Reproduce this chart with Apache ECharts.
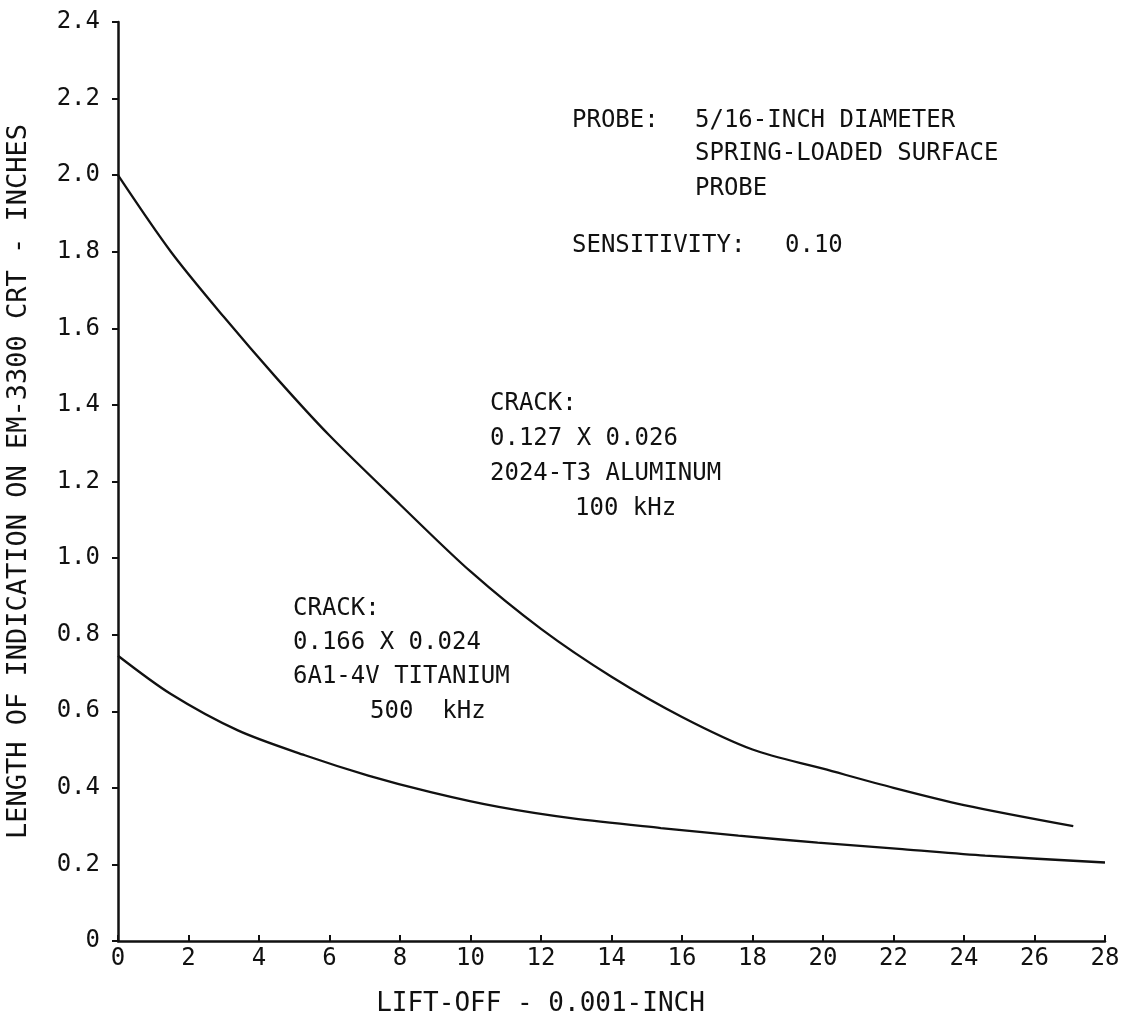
<!DOCTYPE html>
<html>
<head>
<meta charset="utf-8">
<script src="https://cdn.jsdelivr.net/npm/echarts@6/dist/echarts.min.js"></script>
<style>
html,body{margin:0;padding:0;background:#fff;}
#chart{width:1130px;height:1021px;}
</style>
</head>
<body>
<div id="chart"></div>
<script>
// Lift-off (0.001 inch) and indication length (inches)
var aluminumX = [0, 1.5, 3, 4.5, 6, 8, 10, 12, 14, 16, 18, 20, 22, 24, 27.1];
var aluminumY = [2.0, 1.80, 1.63, 1.47, 1.32, 1.14, 0.965, 0.815, 0.69, 0.585, 0.50, 0.45, 0.40, 0.355, 0.30];
var titaniumX = [0, 1.5, 3.4, 5.3, 7.1, 8.9, 10.8, 12.9, 15.4, 17.6, 19.85, 22.25, 24.6, 28];
var titaniumY = [0.745, 0.645, 0.55, 0.485, 0.432, 0.388, 0.35, 0.32, 0.295, 0.275, 0.257, 0.24, 0.223, 0.205];
var xTicks = [0, 2, 4, 6, 8, 10, 12, 14, 16, 18, 20, 22, 24, 26, 28];
var yTicks = [0, 0.2, 0.4, 0.6, 0.8, 1.0, 1.2, 1.4, 1.6, 1.8, 2.0, 2.2, 2.4];

function pairs(xs, ys) { return xs.map(function (x, i) { return [x, ys[i]]; }); }

var FONT = "'DejaVu Sans Mono', 'Liberation Mono', monospace";
var INK = '#111';

function txt(s, x, y) {
  return { type: 'text', style: { text: s, x: x, y: y, fill: INK, font: '24px ' + FONT, textVerticalAlign: 'middle', textAlign: 'left' } };
}

var chart = echarts.init(document.getElementById('chart'), null, { renderer: 'canvas' });
chart.setOption({
  backgroundColor: '#fff',
  animation: false,
  grid: { left: 118, right: 25, top: 22, bottom: 80, containLabel: false, outerBoundsMode: 'none' },
  xAxis: {
    type: 'value', min: xTicks[0], max: xTicks[xTicks.length - 1], interval: 2,
    name: 'LIFT-OFF - 0.001-INCH', nameLocation: 'middle', nameGap: 50,
    nameTextStyle: { color: INK, fontFamily: FONT, fontSize: 26, padding: [0, 142, 0, 0] },
    axisLine: { lineStyle: { color: INK, width: 2.5 } },
    axisTick: { inside: true, length: 6, lineStyle: { color: INK, width: 2 } },
    axisLabel: { color: INK, fontFamily: FONT, fontSize: 24, margin: 6 },
    splitLine: { show: false }
  },
  yAxis: {
    type: 'value', min: yTicks[0], max: yTicks[yTicks.length - 1], interval: 0.2,
    name: 'LENGTH OF INDICATION ON EM-3300 CRT - INCHES', nameLocation: 'middle', nameGap: 86,
    nameTextStyle: { color: INK, fontFamily: FONT, fontSize: 27 },
    axisLine: { lineStyle: { color: INK, width: 2.5 } },
    axisTick: { inside: false, length: 6, lineStyle: { color: INK, width: 2 } },
    axisLabel: { color: INK, fontFamily: FONT, fontSize: 24, margin: 18,
      formatter: function (v) { return v === 0 ? '0' : v.toFixed(1); } },
    splitLine: { show: false }
  },
  series: [
    { type: 'line', data: pairs(aluminumX, aluminumY), showSymbol: false, smooth: 0.3,
      lineStyle: { color: INK, width: 2.3 } },
    { type: 'line', data: pairs(titaniumX, titaniumY), showSymbol: false, smooth: 0.3,
      lineStyle: { color: INK, width: 2.3 } }
  ],
  graphic: [
    txt('PROBE:', 572, 121),
    txt('5/16-INCH DIAMETER', 695, 121),
    txt('SPRING-LOADED SURFACE', 695, 154),
    txt('PROBE', 695, 189),
    txt('SENSITIVITY:', 572, 246),
    txt('0.10', 785, 246),
    txt('CRACK:', 490, 404),
    txt('0.127 X 0.026', 490, 439),
    txt('2024-T3 ALUMINUM', 490, 474),
    txt('100 kHz', 575, 509),
    txt('CRACK:', 293, 609),
    txt('0.166 X 0.024', 293, 643),
    txt('6A1-4V TITANIUM', 293, 677),
    txt('500  kHz', 370, 712)
  ]
});
</script>
</body>
</html>
